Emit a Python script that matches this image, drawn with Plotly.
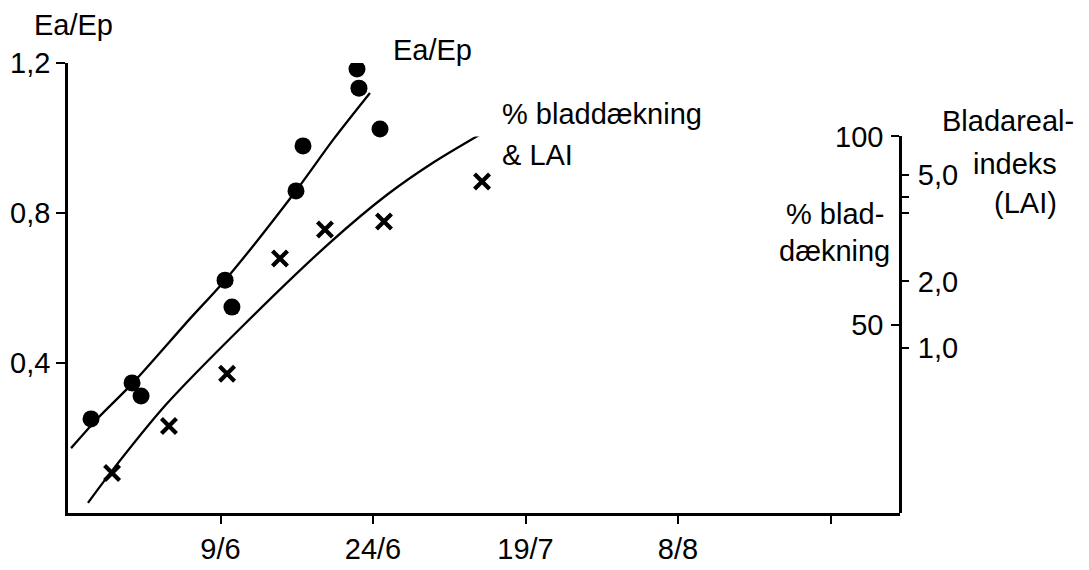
import plotly.graph_objects as go

# ---- data ----
# x in "tick units": 0 = left axis, 1 = 9/6, 2 = 24/6, 3 = 19/7, 4 = 8/8, 5 = unlabeled
x_tick_vals = [1, 2, 3, 4, 5]
x_tick_text = ["9/6", "24/6", "19/7", "8/8", ""]

ea_x = [0.151, 0.420, 0.479, 1.030, 1.075, 1.495, 1.541, 1.895, 1.908, 2.046]
ea_y = [0.251, 0.347, 0.312, 0.621, 0.549, 0.859, 0.979, 1.184, 1.133, 1.024]

ea_fit_x = [0.020, 0.203, 0.426, 0.793, 1.030, 1.489, 1.738, 1.980]
ea_fit_y = [0.173, 0.256, 0.347, 0.515, 0.621, 0.856, 0.995, 1.120]

cover_x = [0.289, 0.662, 1.043, 1.390, 1.685, 2.072, 2.715]
cover_pct = [10.6, 23.1, 37.0, 67.6, 75.3, 77.4, 88.0]

cover_fit_x = [0.131, 0.269, 0.643, 1.154, 1.718, 2.092, 2.393, 2.702]
cover_fit_pct = [2.7, 10.2, 28.8, 50.0, 71.8, 84.5, 93.0, 100.5]

y_tick_vals = [0.4, 0.8, 1.2]
y_tick_text = ["0,4", "0,8", "1,2"]

pct_tick_vals = [50, 100]
pct_tick_text = ["50", "100"]

lai_tick_pct = [89.8, 83.9, 79.7, 61.5, 43.8]
lai_tick_text = ["5,0", "", "", "2,0", "1,0"]

# ---- layout geometry ----
W, H = 1089, 570
L, R, T, B = 68, 189, 63, 57
PW, PH = W - L - R, H - T - B
X_MAX = PW / 152.5
Y2_TOP = (513.3 - 136.7) / PH

FONT = "Liberation Sans, Arial, Helvetica, sans-serif"
FS = 29


def paper(px, py):
    return (px - L) / PW, (H - B - py) / PH


fig = go.Figure()

fig.add_trace(go.Scatter(x=ea_fit_x, y=ea_fit_y, mode="lines",
                         line=dict(color="black", width=2.3, shape="spline", smoothing=0.8),
                         xaxis="x", yaxis="y", showlegend=False, hoverinfo="skip"))
fig.add_trace(go.Scatter(x=ea_x, y=ea_y, mode="markers",
                         marker=dict(symbol="circle", size=17, color="black"),
                         xaxis="x", yaxis="y", showlegend=False))
# cover curve drawn against the LAI/% overlay axis (same 0-100 % scale)
fig.add_trace(go.Scatter(x=cover_fit_x, y=cover_fit_pct, mode="lines",
                         line=dict(color="black", width=2.3, shape="spline", smoothing=0.8),
                         xaxis="x", yaxis="y3", showlegend=False, hoverinfo="skip",
                         cliponaxis=False))
fig.add_trace(go.Scatter(x=cover_x, y=cover_pct, mode="markers",
                         marker=dict(symbol="x-thin", size=15, color="black",
                                     line=dict(color="black", width=4.2)),
                         xaxis="x", yaxis="y2", showlegend=False, cliponaxis=False))

axis_common = dict(showgrid=False, zeroline=False, linecolor="black", linewidth=2.6,
                   tickcolor="black", tickwidth=2.4, automargin=False,
                   tickfont=dict(family=FONT, size=FS, color="black"))

fig.update_layout(
    width=W, height=H,
    margin=dict(l=L, r=R, t=T, b=B, pad=0, autoexpand=False),
    paper_bgcolor="white", plot_bgcolor="rgba(0,0,0,0)",
    font=dict(family=FONT, size=FS, color="black"),
    xaxis=dict(range=[0, X_MAX], tickvals=x_tick_vals, ticktext=x_tick_text,
               showline=True, ticks="outside", ticklen=8, ticklabelstandoff=0,
               domain=[0, 1], anchor="y", **axis_common),
    yaxis=dict(range=[0, 1.2], tickvals=y_tick_vals, ticktext=y_tick_text,
               showline=True, ticks="outside", ticklen=9, ticklabelstandoff=0,
               domain=[0, 1], anchor="x", **axis_common),
    yaxis2=dict(range=[0, 100], tickvals=pct_tick_vals, ticktext=pct_tick_text,
                showline=True, ticks="outside", ticklen=8, ticklabelstandoff=2,
                side="left", anchor="free", position=1.0, domain=[0, Y2_TOP],
                **axis_common),
    yaxis3=dict(range=[0, 100], tickvals=lai_tick_pct, ticktext=lai_tick_text,
                showline=False, ticks="outside", ticklen=8, ticklabelstandoff=3,
                side="right", overlaying="y2", anchor="x", **axis_common),
)

labels = [
    ("Ea/Ep", 73, 25, "center"),
    ("Ea/Ep", 432, 50, "center"),
    ("% bladdækning", 500, 114, "left"),
    ("& LAI", 500, 155, "left"),
    ("Bladareal-", 1076, 121, "right"),
    ("indeks", 1059, 164, "right"),
    ("(LAI)", 1059, 203, "right"),
    ("% blad-", 886, 214, "right"),
    ("dækning", 892, 251, "right"),
]
for text, px, py, anchor in labels:
    xp, yp = paper(px, py)
    fig.add_annotation(text=text, x=xp, y=yp, xref="paper", yref="paper",
                       xanchor=anchor, yanchor="middle", showarrow=False,
                       font=dict(family=FONT, size=FS, color="black"))

fig.write_html("out.html")
